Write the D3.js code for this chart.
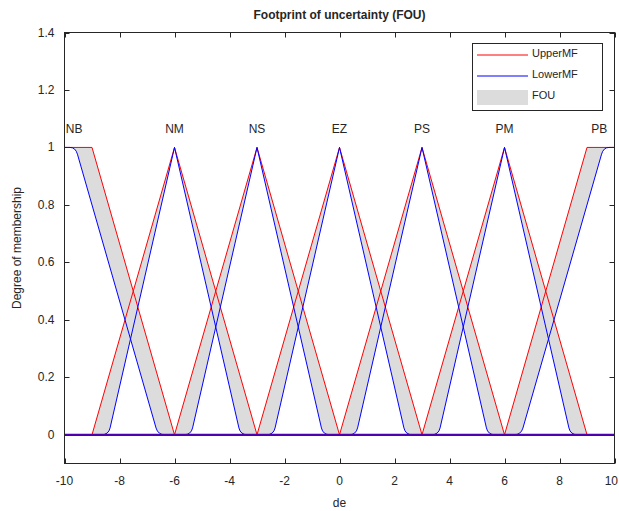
<!DOCTYPE html>
<html><head><meta charset="utf-8">
<script src="https://cdn.jsdelivr.net/npm/d3@7"></script>
<style>body{margin:0;background:#fff}svg{display:block}text{font-family:"Liberation Sans",Arial,Helvetica,sans-serif;fill:#262626}</style>
</head><body><svg id="c" width="619" height="511"></svg>
<script>
const categories = ["NB","NM","NS","EZ","PS","PM","PB"];
// trapezoid params [a,b,c,d] (triangles have b==c)
const upperParams = [[-11,-10,-9,-6],[-9,-6,-6,-3],[-6,-3,-3,0],[-3,0,0,3],[0,3,3,6],[3,6,6,9],[6,9,10,11]];
const lowerParams = [[-11,-10,-9.6,-6.6],[-8.4,-6,-6,-3.6],[-5.4,-3,-3,-0.6],[-2.4,0,0,2.4],[0.6,3,3,5.4],[3.6,6,6,8.4],[6.6,9.6,10,11]];
const labelX = [-9.65,-6,-3,0,3,6,9.45];
const xTicks = [-10,-8,-6,-4,-2,0,2,4,6,8,10];
const yTicks = [0,0.2,0.4,0.6,0.8,1,1.2,1.4];
const legendItems = ["UpperMF","LowerMF","FOU"];

const L=64.5,R=614.5,T=32.5,B=463.5;
const svg=d3.select("#c");
const x=d3.scaleLinear().domain([-10,10]).range([L,R]);
const y=d3.scaleLinear().domain([-0.1,1.4]).range([B,T]);
const axisCol="#262626";

function trap(p,v){const[a,b,c,d]=p;if(v<=a||v>=d)return 0;if(v>=b&&v<=c)return 1;if(v<b)return (v-a)/(b-a);return (d-v)/(d-c);}
function pts(p){
  let xs=[-10,...p,10].filter(v=>v>=-10&&v<=10);
  xs=Array.from(new Set(xs)).sort((a,b)=>a-b);
  return xs.map(v=>{let val=trap(p,v);return {px:x(v),py:y(val),val,xv:v};});
}
function pathOf(P,round,r,start){
  let s=(start||"M")+P[0].px+","+P[0].py;
  for(let i=1;i<P.length;i++){
    const v=P[i];
    if(round&&i<P.length-1){
      const pr=P[i-1],nx=P[i+1];
      const d1=Math.hypot(v.px-pr.px,v.py-pr.py),d2=Math.hypot(nx.px-v.px,nx.py-v.py);
      const isPeak=(pr.py>v.py&&nx.py>v.py);
      if(!isPeak&&d1>0&&d2>0){
        const r1=Math.min(r,d1/2),r2=Math.min(r,d2/2);
        const ax=v.px-(v.px-pr.px)/d1*r1,ay=v.py-(v.py-pr.py)/d1*r1;
        const bx=v.px+(nx.px-v.px)/d2*r2,by=v.py+(nx.py-v.py)/d2*r2;
        s+="L"+ax+","+ay+"Q"+v.px+","+v.py+" "+bx+","+by;continue;
      }
    }
    s+="L"+v.px+","+v.py;
  }
  return s;
}

svg.append("defs").append("clipPath").attr("id","clip").append("rect").attr("x",L).attr("y",T).attr("width",R-L).attr("height",B-T);
const g=svg.append("g").attr("clip-path","url(#clip)");

// FOU fills
upperParams.forEach((up,i)=>{
  const U=pts(up),Lo=pts(lowerParams[i]).slice().reverse();
  const d=pathOf(U,false,0,"M")+pathOf(Lo,true,7,"L")+"Z";
  g.append("path").attr("d",d).attr("fill","#dcdcdc").attr("stroke","none");
});
upperParams.forEach(up=>{
  g.append("path").attr("d",pathOf(pts(up),false,0)).attr("fill","none").attr("stroke","#ff0000").attr("stroke-width",1);
});
lowerParams.forEach(lp=>{
  g.append("path").attr("d",pathOf(pts(lp),true,7)).attr("fill","none").attr("stroke","#0000ff").attr("stroke-width",1);
});
g.append("line").attr("x1",x(-10)).attr("x2",x(10)).attr("y1",y(0)).attr("y2",y(0)).attr("stroke","#4f00b0").attr("stroke-width",2);

// labels
categories.forEach((c,i)=>{
  svg.append("text").attr("x",x(labelX[i])).attr("y",y(1)-14).attr("text-anchor","middle").attr("font-size",12).text(c);
});

// axes box & ticks
svg.append("rect").attr("x",L).attr("y",T).attr("width",R-L).attr("height",B-T).attr("fill","none").attr("stroke",axisCol).attr("stroke-width",1);
xTicks.forEach(t=>{
  const px=Math.round(x(t))+0.5;
  svg.append("line").attr("x1",px).attr("x2",px).attr("y1",B).attr("y2",B-5).attr("stroke",axisCol);
  svg.append("line").attr("x1",px).attr("x2",px).attr("y1",T).attr("y2",T+5).attr("stroke",axisCol);
  const last=(t===xTicks[xTicks.length-1]);
  svg.append("text").attr("x",last?618:x(t)).attr("y",B+21).attr("text-anchor",last?"end":"middle").attr("font-size",12).text(t);
});
yTicks.forEach(t=>{
  const py=Math.round(y(t))+0.5;
  svg.append("line").attr("x1",L).attr("x2",L+5).attr("y1",py).attr("y2",py).attr("stroke",axisCol);
  svg.append("line").attr("x1",R).attr("x2",R-5).attr("y1",py).attr("y2",py).attr("stroke",axisCol);
  svg.append("text").attr("x",L-10).attr("y",y(t)+4).attr("text-anchor","end").attr("font-size",12).text(t);
});

svg.append("text").attr("x",(L+R)/2).attr("y",19).attr("text-anchor","middle").attr("font-size",12).attr("font-weight","bold").text("Footprint of uncertainty (FOU)");
svg.append("text").attr("x",(L+R)/2).attr("y",507).attr("text-anchor","middle").attr("font-size",12).text("de");
svg.append("text").attr("transform","translate(21,"+((T+B)/2)+") rotate(-90)").attr("text-anchor","middle").attr("font-size",12).text("Degree of membership");

// legend
const lg=svg.append("g");
lg.append("rect").attr("x",472.5).attr("y",43.5).attr("width",130).attr("height",67).attr("fill","#fff").attr("stroke",axisCol);
const ly=[55,76,97];
legendItems.forEach((n,i)=>{
  if(i<2) lg.append("line").attr("x1",477).attr("x2",528).attr("y1",ly[i]).attr("y2",ly[i]).attr("stroke",i==0?"#ff0000":"#0000ff");
  else lg.append("rect").attr("x",477).attr("y",90).attr("width",51).attr("height",15).attr("fill","#dcdcdc");
  lg.append("text").attr("x",532).attr("y",ly[i]-2+4).attr("font-size",11).text(n);
});
</script></body></html>
